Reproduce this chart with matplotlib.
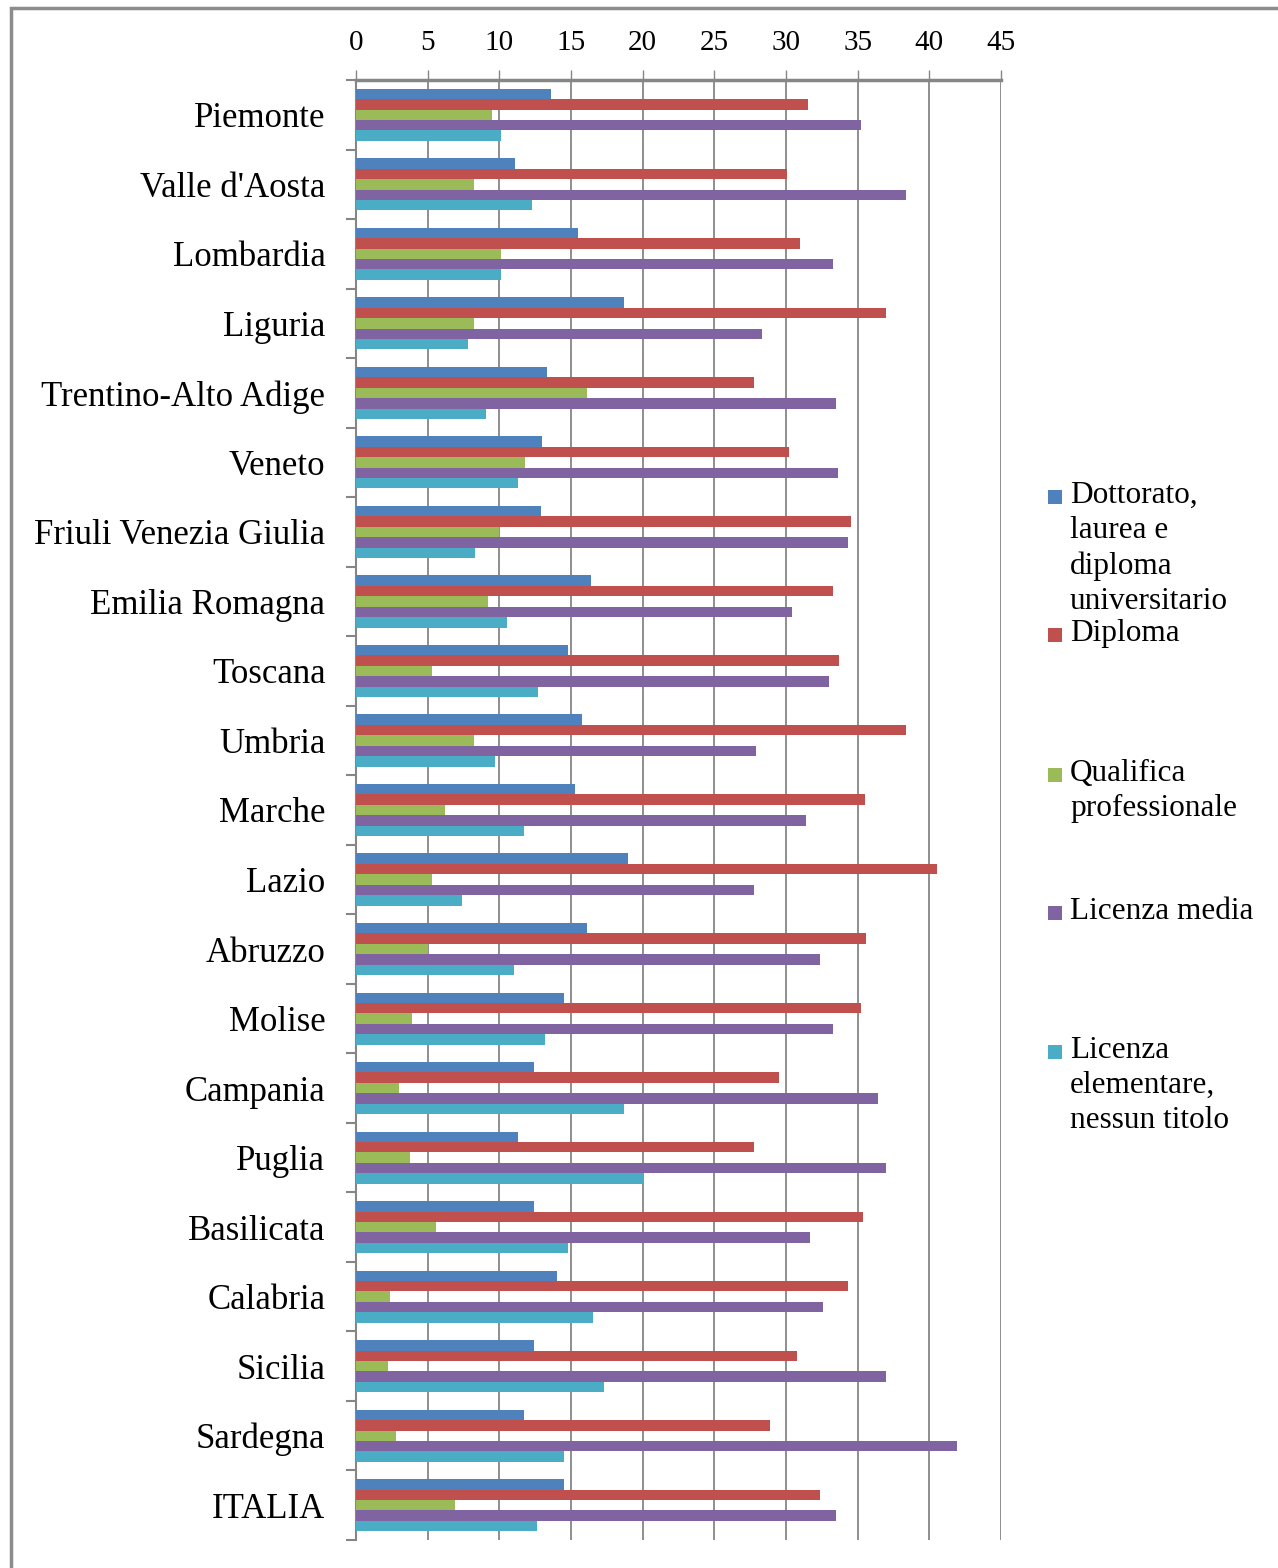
import numpy as np
import matplotlib.pyplot as plt
from matplotlib.patches import Rectangle

regions = ["Piemonte", "Valle d'Aosta", "Lombardia", "Liguria", "Trentino-Alto Adige",
           "Veneto", "Friuli Venezia Giulia", "Emilia Romagna", "Toscana", "Umbria",
           "Marche", "Lazio", "Abruzzo", "Molise", "Campania", "Puglia", "Basilicata",
           "Calabria", "Sicilia", "Sardegna", "ITALIA"]

dottorato = [13.6, 11.1, 15.5, 18.7, 13.3, 13.0, 12.9, 16.4, 14.8, 15.8, 15.3,
             19.0, 16.1, 14.5, 12.4, 11.3, 12.4, 14.0, 12.4, 11.7, 14.5]
diploma = [31.5, 30.1, 31.0, 37.0, 27.8, 30.2, 34.5, 33.3, 33.7, 38.4, 35.5,
           40.5, 35.6, 35.2, 29.5, 27.8, 35.4, 34.3, 30.8, 28.9, 32.4]
qualifica = [9.5, 8.2, 10.1, 8.2, 16.1, 11.8, 10.0, 9.2, 5.3, 8.2, 6.2,
             5.3, 5.0, 3.9, 3.0, 3.8, 5.6, 2.4, 2.2, 2.8, 6.9]
licenza_media = [35.2, 38.4, 33.3, 28.3, 33.5, 33.6, 34.3, 30.4, 33.0, 27.9, 31.4,
                 27.8, 32.4, 33.3, 36.4, 37.0, 31.7, 32.6, 37.0, 41.9, 33.5]
licenza_elem = [10.1, 12.3, 10.1, 7.8, 9.1, 11.3, 8.3, 10.5, 12.7, 9.7, 11.7,
                7.4, 11.0, 13.2, 18.7, 20.0, 14.8, 16.5, 17.3, 14.5, 12.6]

series_labels = ["Dottorato,\nlaurea e\ndiploma\nuniversitario", "Diploma",
                 "Qualifica\nprofessionale", "Licenza media",
                 "Licenza\nelementare,\nnessun titolo"]
colors = ["#4F81BD", "#C0504D", "#9BBB59", "#8064A2", "#4BACC6"]

plt.rcParams['font.family'] = ['Liberation Serif', 'DejaVu Serif']

W, H = 1278, 1568
fig = plt.figure(figsize=(W / 100, H / 100), dpi=100)

# outer gray frame (runs off the right and bottom edges)
fig.patches.append(Rectangle((11 / W, -0.05), 1.1, 1 - 8 / H + 0.05,
                             transform=fig.transFigure, fill=False,
                             edgecolor="#8c8c8c", linewidth=2.5))

ax = fig.add_axes([356 / W, 1 - 1540 / H, (1001 - 356) / W, (1540 - 80) / H])

y = np.arange(len(regions))
h = 0.15
all_series = [dottorato, diploma, qualifica, licenza_media, licenza_elem]
for k, (vals, c) in enumerate(zip(all_series, colors)):
    ax.barh(y + (k - 2) * h, vals, height=h, color=c, zorder=3)

ax.set_xlim(0, 45)
ax.set_ylim(len(regions) - 0.5, -0.5)
ax.xaxis.tick_top()
ax.set_xticks(np.arange(0, 46, 5))
ax.tick_params(axis='x', which='major', direction='out', length=7, width=1,
               color="#868686", labelsize=21, pad=10)
ax.set_yticks(y)
ax.set_yticklabels(regions)
ax.set_yticks(np.arange(len(regions) + 1) - 0.5, minor=True)
ax.tick_params(axis='y', which='major', length=0, labelsize=25, pad=22)
ax.tick_params(axis='y', which='minor', direction='out', length=7, width=1.5,
               color="#868686")
ax.grid(axis='x', color="#868686", linewidth=1.3, zorder=0)

for s in ["right", "bottom"]:
    ax.spines[s].set_visible(False)
ax.spines["top"].set_color("#868686")
ax.spines["top"].set_linewidth(2.5)
ax.spines["left"].set_color("#868686")
ax.spines["left"].set_linewidth(1.5)

# legend, placed by hand like the original
legend_tops = [497, 635, 775, 913, 1052]
for lab, c, ty in zip(series_labels, colors, legend_tops):
    fig.patches.append(Rectangle((1048 / W, 1 - (ty + 7) / H), 14 / W, 14 / H,
                                 transform=fig.transFigure, facecolor=c,
                                 edgecolor="none"))
    fig.text(1070 / W, 1 - (ty - 16) / H, lab, fontsize=22.5, va='top', ha='left',
             linespacing=1.28)

fig.savefig("out.png", dpi=100)
